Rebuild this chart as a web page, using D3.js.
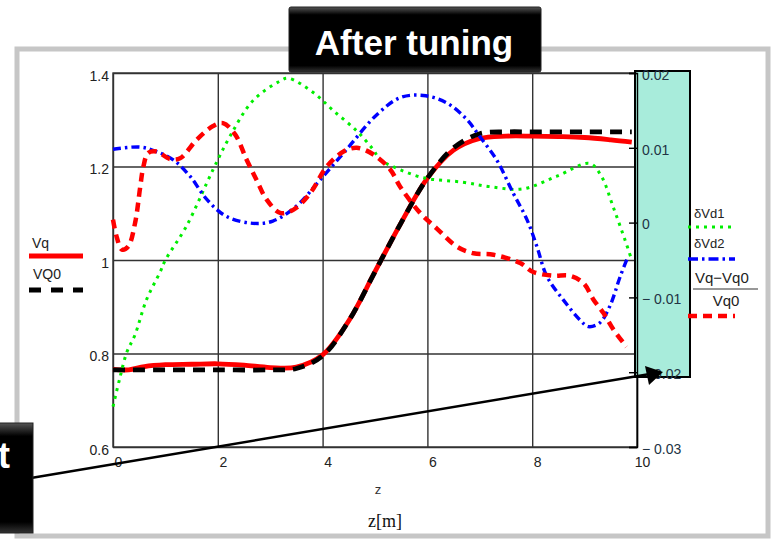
<!DOCTYPE html>
<html>
<head>
<meta charset="utf-8">
<script src="https://cdn.jsdelivr.net/npm/d3@7"></script>
<style>
body { margin: 0; background: #fff; }
svg { display: block; font-family: "Liberation Sans", Arial, sans-serif; }
</style>
</head>
<body>
<svg id="myGraph" width="773" height="541"></svg>
<script>

// Vq (left axis)
var vqZ   = [0, 0.3, 0.6, 1, 1.5, 2, 2.5, 3, 3.5, 4, 4.5, 5, 5.5, 6, 6.5, 7, 7.5, 8, 8.5, 9, 9.5, 9.9]
var vqVal = [0.766, 0.765, 0.772, 0.776, 0.777, 0.778, 0.775, 0.770, 0.771, 0.797, 0.870, 0.975, 1.080, 1.175, 1.235, 1.260, 1.265, 1.265, 1.264, 1.262, 1.257, 1.252]

// VQ0 (left axis)
var vq0Z   = [0, 1, 2, 3, 3.5, 4, 4.5, 5, 5.5, 6, 6.5, 7, 7.5, 8, 9, 9.9]
var vq0Val = [0.765, 0.765, 0.765, 0.765, 0.768, 0.795, 0.870, 0.975, 1.080, 1.175, 1.240, 1.270, 1.274, 1.274, 1.274, 1.274]

// δVd1 (right axis)
var vd1Z   = [0, 0.13, 0.26, 0.42, 0.64, 0.9, 1.0, 1.4, 1.91, 2.23, 2.67, 3.18, 3.34, 3.82, 4.2, 4.66, 4.96, 5.1, 5.34, 5.92, 6.68, 7.2, 7.82, 8.47, 9.1, 9.32, 9.54, 9.77, 9.9]
var vd1Val = [-0.0246, -0.0208, -0.0174, -0.0150, -0.0103, -0.0066, -0.0050, -0.0005, 0.0071, 0.0115, 0.0163, 0.0189, 0.0193, 0.0174, 0.0150, 0.0122, 0.0098, 0.0084, 0.0075, 0.0060, 0.0054, 0.0048, 0.0045, 0.0062, 0.0079, 0.0062, 0.0022, -0.0023, -0.0050]

// δVd2 (right axis)
var vd2Z   = [0, 0.52, 0.83, 1.15, 1.47, 1.79, 2.17, 2.67, 3.05, 3.5, 3.95, 4.46, 5.03, 5.48, 5.92, 6.37, 6.75, 7.0, 7.32, 7.64, 7.9, 8.09, 8.28, 8.59, 8.91, 9.07, 9.29, 9.48, 9.68, 9.83]
var vd2Val = [0.0098, 0.0101, 0.0095, 0.0084, 0.0062, 0.0031, 0.0008, -0.0001, 0.0002, 0.0022, 0.0057, 0.0098, 0.0144, 0.0167, 0.0170, 0.0160, 0.0138, 0.0115, 0.0084, 0.0039, 0.0004, -0.0032, -0.0072, -0.0103, -0.0130, -0.0139, -0.0134, -0.0112, -0.0072, -0.0045]

// (Vq-Vq0)/Vq0 (right axis)
var relZ   = [0, 0.07, 0.17, 0.29, 0.42, 0.52, 0.58, 0.67, 0.83, 1.09, 1.28, 1.6, 1.91, 2.1, 2.33, 2.55, 2.74, 2.93, 3.19, 3.44, 3.76, 4.08, 4.4, 4.65, 4.97, 5.29, 5.48, 5.86, 6.18, 6.56, 6.88, 7.26, 7.77, 8.02, 8.4, 8.72, 8.98, 9.17, 9.36, 9.55, 9.8]
var relVal = [0.0004, -0.0019, -0.0036, -0.0032, -0.0001, 0.0048, 0.0075, 0.0093, 0.0095, 0.0085, 0.0086, 0.0111, 0.0129, 0.0133, 0.0118, 0.0084, 0.0057, 0.0031, 0.0013, 0.0017, 0.0039, 0.0075, 0.0095, 0.0100, 0.0091, 0.0071, 0.0048, 0.0013, -0.0008, -0.0032, -0.0041, -0.0043, -0.0054, -0.0066, -0.0071, -0.0071, -0.0081, -0.0103, -0.0121, -0.0143, -0.0166]

// tick labels
var xTicks  = [0, 2, 4, 6, 8, 10]
var yTicks  = [0.6, 0.8, 1, 1.2, 1.4]
var yRTicks = [0.02, 0.01, 0, -0.01, -0.02, -0.03]

var svg = d3.select("#myGraph")

// 플롯 영역
var pLeft = 113, pRight = 637, pTop = 73, pBottom = 447
var xScale = d3.scaleLinear().domain([0, 10]).range([pLeft, pRight])
var yScale = d3.scaleLinear().domain([0.6, 1.4]).range([pBottom, pTop])
var yRScale = d3.scaleLinear().domain([-0.03, 0.02]).range([pBottom, pTop])

// outer frame
svg.append("rect")
	.attr("x", 17).attr("y", 49).attr("width", 751).attr("height", 487)
	.attr("fill", "#fff").attr("stroke", "#c6c6c6").attr("stroke-width", 5)

// grid + axes
var xAxis = d3.axisBottom(xScale).tickValues(xTicks).tickSize(-(pBottom - pTop)).tickPadding(10)
svg.append("g")
	.attr("transform", "translate(0," + pBottom + ")")
	.call(xAxis)
	.call(function(g) {
		g.select(".domain").remove()
		g.selectAll("line").attr("stroke", "#333").attr("stroke-width", 1.4)
		g.selectAll("text").attr("dx", 5).attr("font-size", 14).attr("fill", "#222")
	})

var yAxis = d3.axisLeft(yScale).tickValues(yTicks).tickSize(-(pRight - pLeft)).tickPadding(4)
	.tickFormat(function(d) { return d3.format("")(d) })
svg.append("g")
	.attr("transform", "translate(" + pLeft + ",0)")
	.call(yAxis)
	.call(function(g) {
		g.select(".domain").remove()
		g.selectAll("line").attr("stroke", "#333").attr("stroke-width", 1.4)
		g.selectAll("text").attr("dy", "0.5em").attr("font-size", 14).attr("fill", "#222")
	})

svg.append("rect")
	.attr("x", pLeft).attr("y", pTop).attr("width", pRight - pLeft).attr("height", pBottom - pTop)
	.attr("fill", "none").attr("stroke", "#333").attr("stroke-width", 1.4)

// lines
function lineOf(zs, vs, sc) {
	var pts = zs.map(function(z, i) { return [xScale(z), sc(vs[i])] })
	return d3.line().curve(d3.curveCatmullRom.alpha(0.5))(pts)
}

var series = [
	{ z: vqZ,  v: vqVal,  sc: yScale,  color: "#ff0000", w: 4.8, dash: null },
	{ z: vq0Z, v: vq0Val, sc: yScale,  color: "#000",    w: 4.8, dash: "12,8" },
	{ z: vd1Z, v: vd1Val, sc: yRScale, color: "#00ee00", w: 3,   dash: "3,5" },
	{ z: vd2Z, v: vd2Val, sc: yRScale, color: "#0000ff", w: 3.4, dash: "8,4,2.5,4" },
	{ z: relZ, v: relVal, sc: yRScale, color: "#ff0000", w: 4.5, dash: "9,6" }
]

svg.append("g").selectAll("path")
	.data(series)
	.enter()
	.append("path")
	.attr("d", function(d) { return lineOf(d.z, d.v, d.sc) })
	.attr("fill", "none")
	.attr("stroke", function(d) { return d.color })
	.attr("stroke-width", function(d) { return d.w })
	.attr("stroke-dasharray", function(d) { return d.dash })

// highlight box over right axis
svg.append("rect")
	.attr("x", 635).attr("y", 71).attr("width", 55).attr("height", 306)
	.attr("fill", "#a8ecdb").attr("stroke", "#000").attr("stroke-width", 2)

// right axis
var yRAxis = d3.axisRight(yRScale).tickValues(yRTicks).tickSize(-8).tickPadding(5)
	.tickFormat(function(d) {
		if (Math.abs(d) < 1e-9) return "0"
		return d < 0 ? "\u2212 " + Math.abs(d).toFixed(2) : d.toFixed(2)
	})
svg.append("g")
	.attr("transform", "translate(" + pRight + ",0)")
	.call(yRAxis)
	.call(function(g) {
		g.select(".domain").attr("stroke", "#000").attr("stroke-width", 1.4)
		g.selectAll("line").attr("stroke", "#000").attr("stroke-width", 1.4)
		g.selectAll("text").attr("dy", "0.45em").attr("font-size", 14).attr("fill", "#234")
	})

// axis titles
svg.append("text").attr("x", 378).attr("y", 494).attr("text-anchor", "middle")
	.attr("font-size", 13).attr("fill", "#333").text("z")
svg.append("text").attr("x", 385).attr("y", 527).attr("text-anchor", "middle")
	.attr("font-family", "'Liberation Serif', serif").attr("font-size", 18).attr("fill", "#111").text("z[m]")

// left legend
svg.append("text").attr("x", 32).attr("y", 248).attr("font-size", 14).attr("fill", "#222").text("Vq")
svg.append("line").attr("x1", 29).attr("x2", 83).attr("y1", 256).attr("y2", 256)
	.attr("stroke", "#ff0000").attr("stroke-width", 5)
svg.append("text").attr("x", 33).attr("y", 279).attr("font-size", 14).attr("fill", "#222").text("VQ0")
svg.append("line").attr("x1", 29).attr("x2", 83).attr("y1", 290).attr("y2", 290)
	.attr("stroke", "#000").attr("stroke-width", 5).attr("stroke-dasharray", "12,10")

// right legend
svg.append("text").attr("x", 694).attr("y", 218).attr("font-size", 13).attr("fill", "#222").text("\u03b4Vd1")
svg.append("line").attr("x1", 688).attr("x2", 735).attr("y1", 227).attr("y2", 227)
	.attr("stroke", "#00ee00").attr("stroke-width", 3).attr("stroke-dasharray", "3,5")
svg.append("text").attr("x", 694).attr("y", 248).attr("font-size", 13).attr("fill", "#222").text("\u03b4Vd2")
svg.append("line").attr("x1", 688).attr("x2", 735).attr("y1", 259).attr("y2", 259)
	.attr("stroke", "#0000ff").attr("stroke-width", 3.4).attr("stroke-dasharray", "10,4,2.5,4")
svg.append("text").attr("x", 695).attr("y", 283).attr("font-size", 15).attr("fill", "#222").text("Vq\u2212Vq0")
svg.append("line").attr("x1", 693).attr("x2", 758).attr("y1", 289).attr("y2", 289)
	.attr("stroke", "#333").attr("stroke-width", 1.2)
svg.append("text").attr("x", 726).attr("y", 306).attr("text-anchor", "middle")
	.attr("font-size", 15).attr("fill", "#222").text("Vq0")
svg.append("line").attr("x1", 688).attr("x2", 735).attr("y1", 316).attr("y2", 316)
	.attr("stroke", "#ff0000").attr("stroke-width", 4.5).attr("stroke-dasharray", "9,6")

// arrow
svg.append("line").attr("x1", 25).attr("y1", 479).attr("x2", 650).attr("y2", 374)
	.attr("stroke", "#000").attr("stroke-width", 2.5)
svg.append("path").attr("d", "M663,372 L645,366 L649,385 Z").attr("fill", "#000")

// title box
var defs = svg.append("defs")
var grad = defs.append("linearGradient").attr("id", "bevel").attr("x1", 0).attr("y1", 0).attr("x2", 0).attr("y2", 1)
grad.append("stop").attr("offset", "0").attr("stop-color", "#555")
grad.append("stop").attr("offset", "0.12").attr("stop-color", "#000")
grad.append("stop").attr("offset", "0.9").attr("stop-color", "#000")
grad.append("stop").attr("offset", "1").attr("stop-color", "#333")
svg.append("rect").attr("x", 289).attr("y", 7).attr("width", 252).attr("height", 65)
	.attr("rx", 2).attr("fill", "url(#bevel)").attr("stroke", "#222").attr("stroke-width", 1)
svg.append("text").attr("x", 414).attr("y", 55).attr("text-anchor", "middle")
	.attr("font-size", 35).attr("font-weight", "bold").attr("fill", "#fff").text("After tuning")

// left cut box (partly outside the picture, as in the source slide)
svg.append("rect").attr("x", -4).attr("y", 423).attr("width", 37).attr("height", 110)
	.attr("fill", "url(#bevel)").attr("stroke", "#222")
svg.append("text").attr("x", 10).attr("y", 468).attr("text-anchor", "end")
	.attr("font-size", 36).attr("font-weight", "bold").attr("fill", "#fff").text("t")

</script>
</body>
</html>
